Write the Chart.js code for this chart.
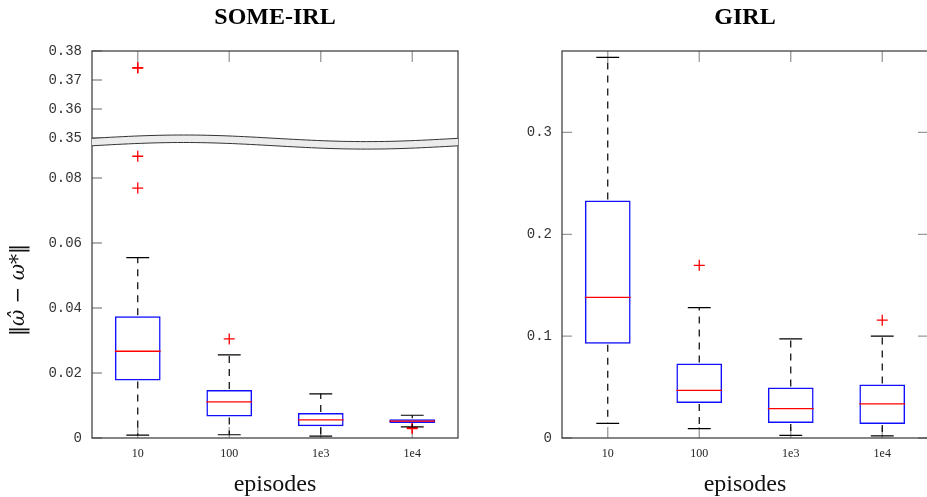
<!DOCTYPE html>
<html lang="en">
<head>
<meta charset="UTF-8">
<title>SOME-IRL vs GIRL</title>
<script src="https://cdn.jsdelivr.net/npm/chart.js@4"></script>
<style>
  html, body { margin: 0; padding: 0; background: #fff; overflow: hidden; }
  #wrap { position: relative; width: 927px; height: 497px; overflow: hidden; }
  #wrap canvas { position: absolute; top: 0; }
  #someChart { left: 0; }
  #girlChart { left: 470px; }
</style>
</head>
<body>
<div id="wrap">
  <canvas id="someChart" width="470" height="497"></canvas>
  <canvas id="girlChart" width="470" height="497"></canvas>
</div>
<script>
const episodes = ['10', '100', '1e3', '1e4'];

// SOME-IRL
const someLow    = [0.0009, 0.0010, 0.0006, 0.0034];
const someQ1     = [0.0177, 0.0066, 0.0036, 0.0046];
const someMedian = [0.0267, 0.0111, 0.0056, 0.0052];
const someQ3     = [0.0375, 0.0148, 0.0077, 0.0058];
const someHigh   = [0.0555, 0.0256, 0.0136, 0.0070];
const someOutliers = [[0.0867, 0.0769, 0.3741, 0.3743], [0.0305], [], [0.0029, 0.0032]];

// GIRL
const girlLow    = [0.0144, 0.0092, 0.0026, 0.0020];
const girlQ1     = [0.0925, 0.0343, 0.0147, 0.0137];
const girlMedian = [0.138, 0.0467, 0.0288, 0.0336];
const girlQ3     = [0.2333, 0.0732, 0.0497, 0.0526];
const girlHigh   = [0.3738, 0.128, 0.0974, 0.100];
const girlOutliers = [[], [0.1696], [], [0.1157]];

// tick labels
const someBottomTicks = ['0', '0.02', '0.04', '0.06', '0.08'];
const someTopTicks = ['0.35', '0.36', '0.37', '0.38'];
const girlTicks = ['0', '0.1', '0.2', '0.3'];

// broken axis ranges of the SOME-IRL panel
const someBottomMax = 0.09108;
const someTopMin = 0.34862;
const someTopMax = 0.38;

Chart.defaults.font.family = 'Liberation Serif';
Chart.defaults.color = '#222';

function fixedTicks(labels) {
  return scale => { scale.ticks = labels.map(s => ({ value: parseFloat(s) })); };
}

function outlierPoints(list, keep) {
  const pts = [];
  list.forEach((vals, i) => vals.forEach(v => { if (keep(v)) pts.push({ x: episodes[i], y: v }); }));
  return pts;
}

function outlierSet(data, axis) {
  return {
    type: 'line', data: data, yAxisID: axis, showLine: false,
    pointStyle: 'cross', pointRadius: 5.5, pointBorderColor: '#ff0000',
    pointBorderWidth: 1.3, pointBackgroundColor: '#ff0000'
  };
}

function boxSet(q1, q3) {
  return {
    type: 'bar', yAxisID: 'y',
    data: q1.map((v, i) => [v, q3[i]]),
    backgroundColor: 'rgba(0,0,0,0)', borderColor: '#1010ff', borderWidth: 1.5,
    borderSkipped: false, barPercentage: 0.5, categoryPercentage: 1.0
  };
}

// whiskers and medians
function boxPlugin(low, med, high, q1, q3) {
  return {
    id: 'boxes',
    afterDatasetsDraw(chart) {
      const { ctx } = chart;
      const x = chart.scales.x, y = chart.scales.y;
      const step = x.getPixelForValue(1) - x.getPixelForValue(0);
      ctx.save();
      low.forEach((lo, i) => {
        const cx = x.getPixelForValue(i);
        const pLo = y.getPixelForValue(lo), pHi = y.getPixelForValue(high[i]);
        const p1 = y.getPixelForValue(q1[i]), p3 = y.getPixelForValue(q3[i]);
        const pm = y.getPixelForValue(med[i]);
        ctx.strokeStyle = '#000';
        ctx.lineWidth = 1.2;
        ctx.setLineDash([7, 6]);
        ctx.beginPath();
        ctx.moveTo(cx, p1 + 1); ctx.lineTo(cx, pLo);
        ctx.moveTo(cx, p3 - 1); ctx.lineTo(cx, pHi);
        ctx.stroke();
        ctx.setLineDash([]);
        ctx.beginPath();
        ctx.moveTo(cx - step / 8, pLo); ctx.lineTo(cx + step / 8, pLo);
        ctx.moveTo(cx - step / 8, pHi); ctx.lineTo(cx + step / 8, pHi);
        ctx.stroke();
        ctx.strokeStyle = '#ff0000';
        ctx.lineWidth = 1.3;
        ctx.beginPath();
        ctx.moveTo(cx - step / 4, pm); ctx.lineTo(cx + step / 4, pm);
        ctx.stroke();
      });
      ctx.restore();
    }
  };
}

// frame and inner tick marks
function framePlugin(rightTicks) {
  return {
    id: 'frame',
    beforeDatasetsDraw(chart) {
      const { ctx, chartArea: a } = chart;
      ctx.save();
      ctx.strokeStyle = '#999';
      ctx.lineWidth = 1.3;
      ctx.beginPath();
      Object.values(chart.scales).forEach(s => {
        if (s.axis === 'y') {
          s.ticks.forEach(t => {
            const py = s.getPixelForValue(t.value);
            ctx.moveTo(a.left, py); ctx.lineTo(a.left + 10, py);
            if (rightTicks) { ctx.moveTo(a.right, py); ctx.lineTo(a.right - 10, py); }
          });
        } else {
          s.ticks.forEach((t, i) => {
            const px = s.getPixelForValue(i);
            ctx.moveTo(px, a.top); ctx.lineTo(px, a.top + 11);
            ctx.moveTo(px, a.bottom); ctx.lineTo(px, a.bottom - 11);
          });
        }
      });
      ctx.stroke();
      ctx.strokeStyle = '#444';
      ctx.lineWidth = 1.3;
      ctx.strokeRect(a.left, a.top, a.right - a.left, a.bottom - a.top);
      ctx.restore();
    }
  };
}

// wavy break between the two y ranges
const breakPlugin = {
  id: 'axisBreak',
  afterDraw(chart) {
    const { ctx, chartArea: a } = chart;
    const yj = chart.scales.y.top;
    const w = a.right - a.left;
    const wave = (t, off) => yj + off - 3.3 * Math.sin(2 * Math.PI * t);
    ctx.save();
    ctx.beginPath();
    for (let k = 0; k <= 60; k++) {
      const t = k / 60;
      const px = a.left + t * w;
      k === 0 ? ctx.moveTo(px, wave(t, -3.7)) : ctx.lineTo(px, wave(t, -3.7));
    }
    for (let k = 60; k >= 0; k--) {
      const t = k / 60;
      ctx.lineTo(a.left + t * w, wave(t, 3.8));
    }
    ctx.closePath();
    ctx.fillStyle = '#ececec';
    ctx.fill();
    ctx.strokeStyle = '#333';
    ctx.lineWidth = 1;
    [-3.7, 3.8].forEach(off => {
      ctx.beginPath();
      for (let k = 0; k <= 60; k++) {
        const t = k / 60;
        const px = a.left + t * w;
        k === 0 ? ctx.moveTo(px, wave(t, off)) : ctx.lineTo(px, wave(t, off));
      }
      ctx.stroke();
    });
    ctx.restore();
  }
};

const tickFont = { family: 'Liberation Mono', size: 14 };

function yTicks(labels) {
  return { font: tickFont, padding: 2, color: '#333', autoSkip: false, callback: (v, i) => labels[i] };
}

function xAxis() {
  return {
    type: 'category', labels: episodes, offset: true,
    grid: { display: false }, border: { display: false },
    ticks: { font: { size: 12 }, padding: 1, color: '#222', autoSkip: false },
    title: { display: true, text: 'episodes', font: { size: 24, lineHeight: 1 }, padding: { top: 0, bottom: 0 }, color: '#111' },
    afterFit: s => { s.height = 59; }
  };
}

function titleOpts(text) {
  return {
    display: true, text: text, fullSize: false, color: '#000',
    font: { size: 24, weight: 'bold', lineHeight: 1.2 },
    padding: { top: 3, bottom: 19.2 }
  };
}

new Chart(document.getElementById('someChart'), {
  type: 'bar',
  data: {
    datasets: [
      boxSet(someQ1, someQ3),
      outlierSet(outlierPoints(someOutliers, v => v <= someBottomMax), 'y'),
      outlierSet(outlierPoints(someOutliers, v => v > someBottomMax), 'yTop')
    ]
  },
  options: {
    responsive: false, animation: false,
    layout: { padding: { left: 0, right: 12, top: 0, bottom: 0 } },
    plugins: { legend: { display: false }, tooltip: { enabled: false }, title: titleOpts('SOME-IRL') },
    scales: {
      x: xAxis(),
      y: {
        type: 'linear', position: 'left', stack: 'left', stackWeight: 296,
        min: 0, max: someBottomMax, bounds: 'data',
        grid: { display: false }, border: { display: false },
        afterBuildTicks: fixedTicks(someBottomTicks),
        ticks: yTicks(someBottomTicks),
        title: {
          display: true, text: '‖ω̂ − ω*‖', color: '#111',
          font: { family: 'DejaVu Serif', size: 20, style: 'italic', lineHeight: 1 }, padding: { top: 9, bottom: 0 }
        },
        afterFit: s => { s.width = 92; }
      },
      yTop: {
        type: 'linear', position: 'left', stack: 'left', stackWeight: 91,
        min: someTopMin, max: someTopMax, bounds: 'data',
        grid: { display: false }, border: { display: false },
        afterBuildTicks: fixedTicks(someTopTicks),
        ticks: yTicks(someTopTicks),
        afterFit: s => { s.width = 92; }
      }
    }
  },
  plugins: [framePlugin(false), boxPlugin(someLow, someMedian, someHigh, someQ1, someQ3), breakPlugin]
});

new Chart(document.getElementById('girlChart'), {
  type: 'bar',
  data: {
    datasets: [
      boxSet(girlQ1, girlQ3),
      outlierSet(outlierPoints(girlOutliers, () => true), 'y')
    ]
  },
  options: {
    responsive: false, animation: false,
    layout: { padding: { left: 0, right: 12, top: 0, bottom: 0 } },
    plugins: { legend: { display: false }, tooltip: { enabled: false }, title: titleOpts('GIRL') },
    scales: {
      x: xAxis(),
      y: {
        type: 'linear', position: 'left', min: 0, max: 0.38, bounds: 'data',
        grid: { display: false }, border: { display: false },
        afterBuildTicks: fixedTicks(girlTicks),
        ticks: yTicks(girlTicks),
        afterFit: s => { s.width = 92; }
      }
    }
  },
  plugins: [framePlugin(true), boxPlugin(girlLow, girlMedian, girlHigh, girlQ1, girlQ3)]
});
</script>
</body>
</html>
